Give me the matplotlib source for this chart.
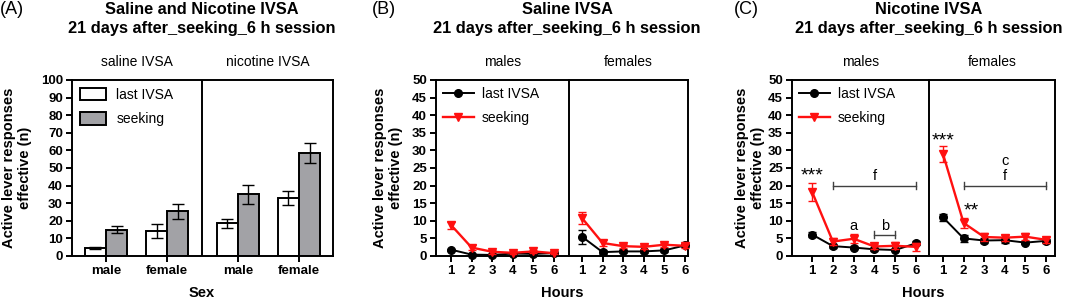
import numpy as np
import matplotlib
matplotlib.use("Agg")
from matplotlib import pyplot as plt
from matplotlib.patches import Patch
from matplotlib.lines import Line2D

plt.rcParams['font.family'] = ['Liberation Sans', 'DejaVu Sans']

# ---- data ----
sexes = ['male', 'female', 'male', 'female']
bar_last = [4.5, 14.0, 18.5, 33.0]
bar_last_err = [0.8, 4.0, 2.8, 4.0]
bar_seek = [14.8, 25.5, 35.0, 58.5]
bar_seek_err = [2.0, 4.3, 5.5, 5.8]

hours = [1, 2, 3, 4, 5, 6]

b_m_last = [1.8, 0.4, 0.3, 0.7, 0.6, 0.8]
b_m_last_err = [0.3, 0.2, 0.2, 0.2, 0.2, 0.2]
b_m_seek = [8.8, 2.4, 1.2, 0.9, 1.3, 0.8]
b_m_seek_err = [1.0, 0.7, 0.5, 0.4, 0.5, 0.3]
b_f_last = [5.5, 1.1, 1.3, 1.3, 1.6, 3.0]
b_f_last_err = [2.0, 0.5, 0.5, 0.5, 0.5, 0.5]
b_f_seek = [10.8, 3.7, 2.8, 2.6, 3.2, 2.9]
b_f_seek_err = [1.6, 0.8, 0.6, 0.5, 0.6, 0.5]

c_m_last = [6.1, 2.8, 2.4, 1.9, 1.7, 3.6]
c_m_last_err = [0.8, 0.5, 0.5, 0.4, 0.4, 0.6]
c_m_seek = [18.2, 4.1, 4.9, 2.7, 2.9, 2.6]
c_m_seek_err = [2.5, 1.0, 1.3, 0.8, 1.0, 1.2]
c_f_last = [11.0, 5.0, 4.4, 4.5, 3.8, 4.3]
c_f_last_err = [1.0, 0.9, 0.8, 0.7, 0.5, 0.5]
c_f_seek = [29.0, 9.4, 5.4, 5.2, 5.5, 4.6]
c_f_seek_err = [2.2, 1.5, 1.0, 0.9, 0.9, 0.8]

W, H = 1065, 300
fig = plt.figure(figsize=(W / 100, H / 100), dpi=100)

GRAY = '#a2a2a6'
RED = '#ff1010'
LW = 1.4
TICK_FS = 9.5
LAB_FS = 10.5


def px_axes(x0, x1, y_top, y_bot):
    return fig.add_axes([x0 / W, (H - y_bot) / H, (x1 - x0) / W, (y_bot - y_top) / H])


def style(ax):
    for s in ax.spines.values():
        s.set_linewidth(LW)
    ax.tick_params(direction='out', width=LW, length=4.5, labelsize=TICK_FS, pad=2)
    for lab in ax.get_xticklabels() + ax.get_yticklabels():
        lab.set_fontweight('bold')


def title(xc, line1, line2, label, lx):
    fig.text(xc / W, 1 - 10 / H, line1, ha='center', va='center', fontsize=11.8,
             fontweight='bold')
    fig.text(xc / W, 1 - 28 / H, line2, ha='center', va='center', fontsize=11.8,
             fontweight='bold')
    fig.text(lx / W, 1 - 9 / H, label, ha='left', va='center', fontsize=13)


def ylabel(xc):
    fig.text(xc / W, 1 - 168 / H, 'Active lever responses\neffective (n)', rotation=90,
             ha='center', va='center', fontsize=LAB_FS, fontweight='bold', linespacing=1.1)


# ---- panel A ----
axA = px_axes(72, 333, 80, 256)
centers = np.array([0, 1, 2.16, 3.16])
bw = 0.345
axA.bar(centers - bw / 2, bar_last, bw, color='white', edgecolor='black', linewidth=LW,
        yerr=bar_last_err, error_kw=dict(lw=1.0, capsize=4, capthick=1.0))
axA.bar(centers + bw / 2, bar_seek, bw, color=GRAY, edgecolor='black', linewidth=LW,
        yerr=bar_seek_err, error_kw=dict(lw=1.0, capsize=4, capthick=1.0))
axA.set_xlim(-0.557, 3.717)
axA.set_ylim(0, 100)
axA.set_yticks(np.arange(0, 101, 10))
axA.set_xticks(centers)
axA.set_xticklabels(sexes)
axA.axvline(1.574, color='black', lw=LW)
style(axA)
ylabel(17)
fig.text(202 / W, 1 - 293 / H, 'Sex', ha='center', va='center', fontsize=LAB_FS,
         fontweight='bold')
axA.legend(handles=[Patch(facecolor='white', edgecolor='black', linewidth=LW, label='last IVSA'),
                    Patch(facecolor=GRAY, edgecolor='black', linewidth=LW, label='seeking')],
           loc='upper left', frameon=False, fontsize=10, handlelength=1.9, handleheight=1.0,
           borderaxespad=0.15, labelspacing=0.75, handletextpad=0.75)
fig.text(137 / W, 1 - 62 / H, 'saline IVSA', ha='center', va='center', fontsize=10)
fig.text(268 / W, 1 - 62 / H, 'nicotine IVSA', ha='center', va='center', fontsize=10)
title(202, 'Saline and Nicotine IVSA', '21 days after_seeking_6 h session', '(A)', 0)


def line_pair(ax, last, last_err, seek, seek_err):
    ax.errorbar(hours, last, yerr=last_err, color='black', marker='o', ms=5.5, lw=1.4,
                capsize=3, elinewidth=1.0, clip_on=False, zorder=3)
    ax.errorbar(hours, seek, yerr=seek_err, color=RED, marker='v', ms=6, lw=1.7,
                capsize=3, elinewidth=1.0, clip_on=False, zorder=4)


def line_panel(x0, xd, x1, m, f, xl_left, xl_right, ylx):
    axl = px_axes(x0, xd, 80, 256)
    axr = px_axes(xd, x1, 80, 256)
    line_pair(axl, *m)
    line_pair(axr, *f)
    for ax, xl in ((axl, xl_left), (axr, xl_right)):
        ax.set_ylim(0, 50)
        ax.set_xlim(*xl)
        ax.set_xticks(hours)
        style(ax)
    axl.set_yticks(np.arange(0, 51, 5))
    axr.tick_params(axis='y', left=False, labelleft=False)
    axl.spines['right'].set_visible(False)
    ylabel(ylx)
    fig.text((x0 + x1) / 2 / W, 1 - 293 / H, 'Hours', ha='center', va='center',
             fontsize=LAB_FS, fontweight='bold')
    axl.legend(handles=[Line2D([], [], color='black', marker='o', ms=5.5, lw=1.4, label='last IVSA'),
                        Line2D([], [], color=RED, marker='v', ms=6, lw=1.7, label='seeking')],
               loc='upper left', frameon=False, fontsize=10, handlelength=2.2,
               borderaxespad=0.1, labelspacing=0.7, handletextpad=0.6)
    fig.text((x0 + xd) / 2 / W, 1 - 62 / H, 'males', ha='center', va='center', fontsize=10)
    fig.text((xd + x1) / 2 / W, 1 - 62 / H, 'females', ha='center', va='center', fontsize=10)
    return axl, axr


# ---- panel B ----
line_panel(436, 569, 688,
           (b_m_last, b_m_last_err, b_m_seek, b_m_seek_err),
           (b_f_last, b_f_last_err, b_f_seek, b_f_seek_err),
           (0.27, 6.73), (0.37, 6.15), 388)
title(567, 'Saline IVSA', '21 days after_seeking_6 h session', '(B)', 372)

# ---- panel C ----
cl, cr = line_panel(792, 929, 1055,
                    (c_m_last, c_m_last_err, c_m_seek, c_m_seek_err),
                    (c_f_last, c_f_last_err, c_f_seek, c_f_seek_err),
                    (0.03, 6.63), (0.32, 6.44), 750)
title(929, 'Nicotine IVSA', '21 days after_seeking_6 h session', '(C)', 734)

BR = '#404040'


def bracket(ax, xa, xb, y, text, ty):
    ax.plot([xa, xb], [y, y], color=BR, lw=1.0)
    ax.plot([xa, xa], [y - 0.9, y + 0.9], color=BR, lw=1.0)
    ax.plot([xb, xb], [y - 0.9, y + 0.9], color=BR, lw=1.0)
    ax.text((xa + xb) / 2, ty, text, ha='center', va='center', fontsize=10.5)


bracket(cl, 2, 6, 20, 'f', 22.6)
bracket(cl, 4, 5, 6.1, 'b', 8.5)
cl.text(3, 8.5, 'a', ha='center', va='center', fontsize=10.5)
cl.text(1, 22.6, '***', ha='center', va='center', fontsize=14)
bracket(cr, 2, 6, 20, 'f', 22.6)
cr.text(4, 27, 'c', ha='center', va='center', fontsize=10.5)
cr.text(1, 32.6, '***', ha='center', va='center', fontsize=14)
cr.text(2.35, 12.7, '**', ha='center', va='center', fontsize=14)

fig.savefig('out.png', dpi=100)
